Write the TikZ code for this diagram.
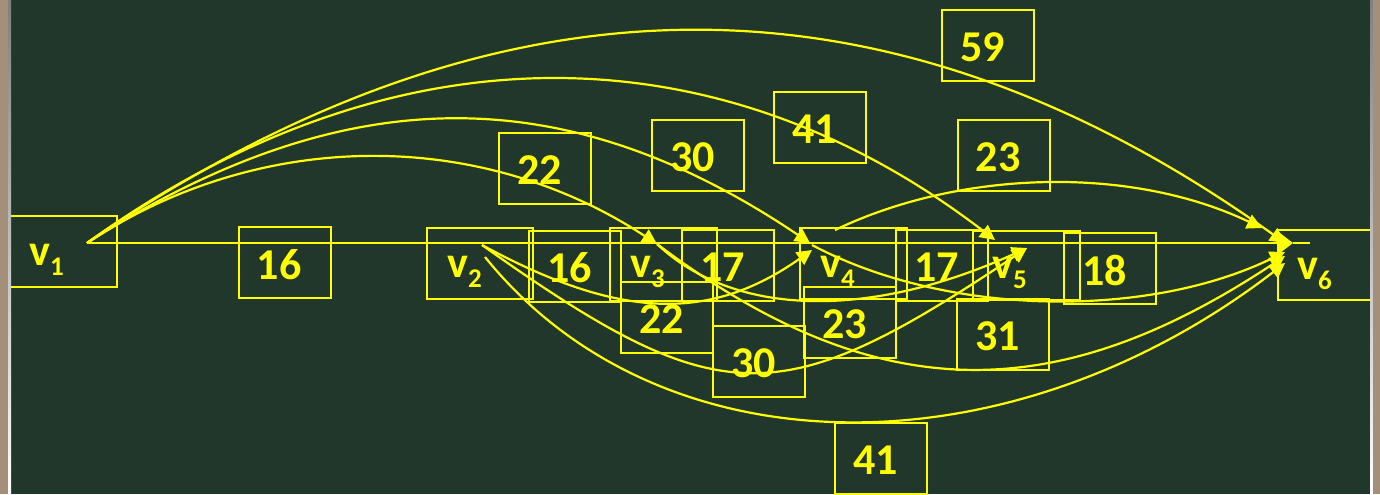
\documentclass[tikz,border=0pt]{standalone}
\usepackage{fontspec}
\setmainfont{Carlito}
\usetikzlibrary{arrows.meta}
\definecolor{board}{HTML}{22372B}
\definecolor{chalk}{HTML}{FFFF00}
\definecolor{wood}{HTML}{A38F7A}
\definecolor{shade}{HTML}{141C16}
\begin{document}
\begin{tikzpicture}[x=0.5pt,y=-0.5pt,
  edge/.style={draw=chalk, line width=1.1pt},
  arr/.style={edge, -{Triangle[length=7.5pt,width=7.5pt]}},
  numbox/.style={draw=chalk, line width=1pt, minimum width=46pt, minimum height=35.5pt, inner sep=0pt},
  numtxt/.style={text=chalk, font=\fontsize{22}{24}\selectfont\bfseries, xshift=-2.75pt, yshift=-1pt, inner sep=0pt},
  vbox/.style={draw=chalk, line width=1pt, inner sep=0pt},
  vtxt/.style={text=chalk, font=\fontsize{22}{24}\selectfont\bfseries, inner sep=0pt, anchor=base west}]
\newcommand{\vsub}[1]{\raisebox{-5pt}{\fontsize{13.5}{14}\selectfont #1}}
\useasboundingbox (0,0) rectangle (1380,494);
\fill[board] (0,0) rectangle (1380,494);
\begin{scope}
\clip (0,0) rectangle (1380,494);
% vertex boxes
\node[vbox, minimum width=54pt, minimum height=35.5pt] (v1) at (63,251.5) {};
\node[vbox, minimum width=53pt, minimum height=35.5pt] (v2) at (480,263.5) {};
\node[vbox, minimum width=53.5pt, minimum height=36.5pt] (v3) at (663.5,264.5) {};
\node[vbox, minimum width=53.5pt, minimum height=35.5pt] (v4) at (853.5,263.5) {};
\node[vbox, minimum width=53.5pt, minimum height=34.5pt] (v5) at (1026.5,265.5) {};
\node[vbox, minimum width=61pt, minimum height=35pt] (v6) at (1339,265) {};
\node[vtxt] (t1) at (29,265) {v\vsub{1}};
\node[vtxt] (t2) at (447,277) {v\vsub{2}};
\node[vtxt] (t3) at (630,277) {v\vsub{3}};
\node[vtxt] (t4) at (820,277) {v\vsub{4}};
\node[vtxt] (t5) at (992,278) {v\vsub{5}};
\node[vtxt] (t6) at (1297,279) {v\vsub{6}};
% weight boxes
\node[numbox, label={[numtxt]center:16}] (w12) at (284.5,262.5) {};
\node[numbox, label={[numtxt]center:16}] (w23) at (575,266) {};
\node[numbox, label={[numtxt]center:17}] (w34) at (728,265.5) {};
\node[numbox, label={[numtxt]center:17}] (w45) at (942,265.5) {};
\node[numbox, label={[numtxt]center:18}] (w56) at (1110,268.5) {};
\node[numbox, label={[numtxt]center:22}] (w13) at (545,168.5) {};
\node[numbox, label={[numtxt]center:30}] (w14) at (698,155) {};
\node[numbox, label={[numtxt]center:41}] (w15) at (820,127) {};
\node[numbox, label={[numtxt]center:59}] (w16) at (988,45) {};
\node[numbox, label={[numtxt]center:23}] (w46) at (1003.5,155) {};
\node[numbox, label={[numtxt]center:22}] (w24) at (667,317.5) {};
\node[numbox, label={[numtxt]center:30}] (w25) at (759,361.5) {};
\node[numbox, label={[numtxt]center:23}] (w35) at (850,322) {};
\node[numbox, label={[numtxt]center:31}] (w36) at (1003,334) {};
\node[numbox, label={[numtxt]center:41}] (w26) at (881,458.5) {};
% connector end points
\coordinate (p1) at (87,243);
\coordinate (p2a) at (482,245);
\coordinate (p2b) at (485,257);
\coordinate (p3) at (657,244);
\coordinate (p4a) at (810,243);
\coordinate (p4b) at (812,250);
\coordinate (p4c) at (835,230);
\coordinate (p4d) at (812,245);
\coordinate (p5a) at (995,240);
\coordinate (p5b) at (1027,248);
\coordinate (p6) at (1285,243);
\coordinate (p6a) at (1262,228);
\coordinate (p6b) at (1285,252);
\coordinate (p6c) at (1285,256);
\coordinate (p6d) at (1285,263);
\coordinate (p6h) at (1293,243);
\coordinate (e6) at (1310,243);
% straight chain
\draw[edge, -{Triangle[length=8pt,width=12pt]}] (p1) -- (p6h);
\draw[edge] (p6h) -- (e6);
% arcs from v1
\draw[arr] (p1) .. controls (500,-40) and (890,-40) .. (p6);
\draw[arr] (p1) .. controls (390,25) and (715,25) .. (p5a);
\draw[arr] (p1) .. controls (345,78) and (565,78) .. (p4a);
\draw[arr] (p1) .. controls (260,128) and (480,128) .. (p3);
% upper v4 -> v6
\draw[arr] (p4c) .. controls (960,170) and (1130,165) .. (p6a);
% lower arcs
\draw[arr] (p2a) .. controls (620,320) and (710,322) .. (p4b);
\draw[arr] (p2a) .. controls (720,414) and (779,414) .. (p5b);
\draw[arr] (p2b) .. controls (661,475) and (1009,475) .. (p6d);
\draw[arr] (p3) .. controls (740,322) and (880,315) .. (p5b);
\draw[arr] (p3) .. controls (880,412) and (1060,405) .. (p6c);
\draw[arr] (p4d) .. controls (950,318) and (1150,318) .. (p6b);
\end{scope}
% board frame
\fill[wood] (0,0) rectangle (8,494);
\fill[shade] (8,0) rectangle (11,494);
\fill[shade] (1370,0) rectangle (1373,494);
\fill[wood] (1373,0) rectangle (1380,494);
\end{tikzpicture}
\end{document}
